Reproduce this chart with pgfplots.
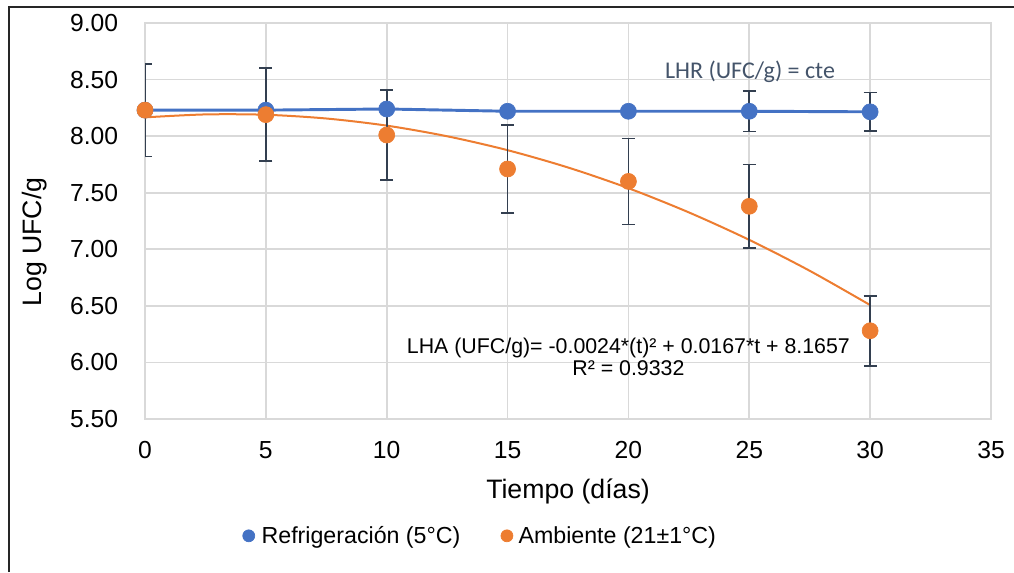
\documentclass[border=0pt]{standalone}
\usepackage{pgfplots}
\pgfplotsset{compat=1.18}
\usepackage{fontspec}
\setmainfont{Liberation Sans}
\newfontfamily\calibri{Carlito}
\definecolor{cRefri}{HTML}{4472C4}
\definecolor{cAmb}{HTML}{ED7D31}
\definecolor{cErr}{HTML}{333F50}
\definecolor{cGrid}{HTML}{D9D9D9}
\definecolor{cNote}{HTML}{44546A}
\newcommand{\chartfont}{\fontsize{18.5pt}{22pt}\selectfont}
\newcommand{\labelfont}{\fontsize{20pt}{24pt}\selectfont}
\newcommand{\legfont}{\fontsize{17.4pt}{21pt}\selectfont}

\begin{document}
\begin{tikzpicture}
\useasboundingbox (0,0) rectangle (760.5pt,429pt);
\draw[line width=0.9pt, black!85] (6.75pt,0pt) -- (6.75pt,423.75pt) -- (760.5pt,423.75pt);
\begin{axis}[
    at={(108.75pt,114.75pt)}, anchor=south west,
    scale only axis, width=634.5pt, height=297pt,
    xmin=0, xmax=35, ymin=5.5, ymax=9,
    xtick={0,5,...,35},
    ytick={5.5,6,6.5,7,7.5,8,8.5,9},
    yticklabel style={/pgf/number format/fixed, /pgf/number format/fixed zerofill,
        /pgf/number format/precision=2},
    /pgf/number format/assume math mode=true,
    major tick length=0pt,
    grid=major,
    grid style={cGrid, line width=1.2pt},
    axis line style={cGrid, line width=1.2pt},
    tick label style={font=\chartfont, text=black},
    yticklabel style={inner sep=0pt, xshift=-20pt},
    xticklabel style={inner sep=0pt, yshift=-16.5pt},
    xlabel={Tiempo (días)},
    ylabel={Log UFC/g},
    label style={font=\labelfont},
    xlabel style={at={(rel axis cs:0.5,-0.183)}, anchor=center},
    ylabel style={at={(rel axis cs:-0.13,0.447)}, anchor=center},
    clip mode=individual,
    legend style={at={(0.395,-0.295)}, anchor=center, draw=none, fill=none,
        font=\legfont, legend columns=2,
        /tikz/every even column/.append style={column sep=27pt},
        inner sep=0pt},
    legend image code/.code={\draw[#1, only marks, mark size=4.5pt]
        plot coordinates {(0.2cm,0cm)}; \path (0cm,0cm) (0.43cm,0cm);},
    legend cell align=left,
]
% polynomial trend line of the Ambiente series
\addplot[cAmb, line width=1.5pt, smooth, no marks, forget plot] coordinates {
  (0,8.166) (2.5,8.192) (5,8.189) (7.5,8.156) (10,8.093) (12.5,7.999) (15,7.876)
  (17.5,7.723) (20,7.540) (22.5,7.326) (25,7.083) (27.5,6.810) (30,6.507)};
% error bars, Refrigeracion
\addplot[draw=none, forget plot,
    error bars/.cd, y dir=both, y explicit,
    error bar style={cErr, line width=1.3pt},
    error mark options={cErr, rotate=90, mark size=4.9pt, line width=1.3pt}]
  table[x=t, y=v, y error=e] {
t v e
25 8.22 0.18
30 8.215 0.17
};
% error bars, Ambiente
\addplot[draw=none, forget plot,
    error bars/.cd, y dir=both, y explicit,
    error bar style={cErr, line width=1.3pt},
    error mark options={cErr, rotate=90, mark size=4.9pt, line width=1.3pt}]
  table[x=t, y=v, y error=e] {
t v e
0  8.23 0.41
5  8.19 0.41
10 8.01 0.40
15 7.71 0.39
20 7.60 0.38
25 7.38 0.37
30 6.28 0.31
};
\addplot[cRefri, line width=2.2pt, mark=*, mark size=6pt,
    mark options={fill=cRefri, draw=cRefri, line width=0.5pt}]
  coordinates {(0,8.23) (5,8.23) (10,8.24) (15,8.22) (20,8.22) (25,8.22) (30,8.215)};
\addlegendentry{Refrigeración (5°C)}
\addplot[only marks, mark=*, mark size=6pt,
    mark options={fill=cAmb, draw=cAmb, line width=0.5pt}]
  coordinates {(0,8.23) (5,8.19) (10,8.01) (15,7.71) (20,7.60) (25,7.38) (30,6.28)};
\addlegendentry{Ambiente (21±1°C)}
\node[font=\calibri\fontsize{18pt}{20pt}\selectfont, text=cNote, anchor=center]
  at (axis cs:25.03,8.57) {LHR (UFC/g) = cte};
\node[font=\fontsize{16pt}{16.5pt}\selectfont, align=center, anchor=center, inner sep=0pt]
  at (axis cs:20.0,6.05) {LHA (UFC/g)= -0.0024*(t)² + 0.0167*t + 8.1657\\R² = 0.9332};
\end{axis}
\end{tikzpicture}
\end{document}
